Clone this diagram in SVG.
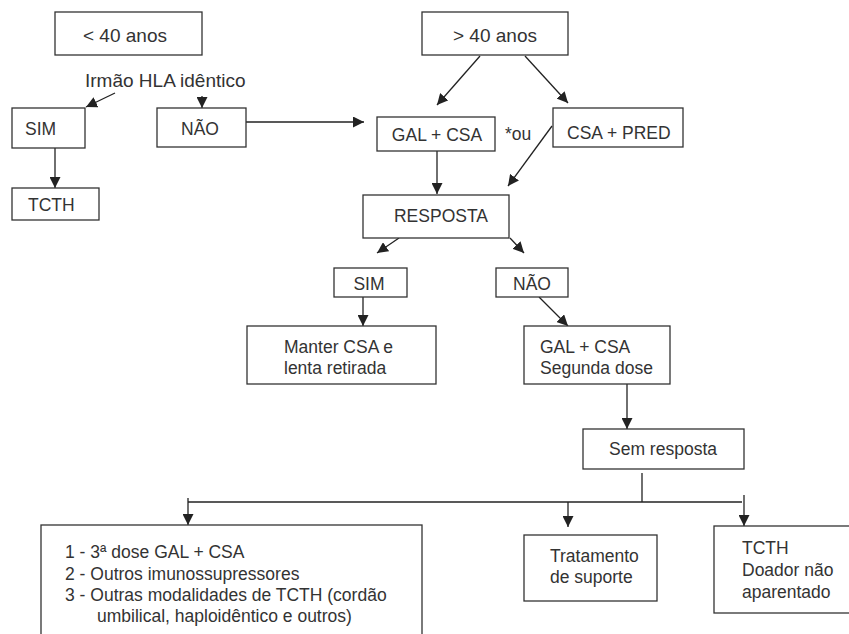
<svg xmlns="http://www.w3.org/2000/svg" width="849" height="634" viewBox="0 0 849 634">
<defs>
<style>
.b{fill:#fff;stroke:#333;stroke-width:1.3}
.t{font-family:"Liberation Sans",Arial,sans-serif;font-size:17.5px;fill:#333}
.big{font-size:19px}
.c{text-anchor:middle}
.e line,.e path{stroke:#222;stroke-width:1.3;fill:none}
</style>
<marker id="a" viewBox="0 0 10 10" refX="10" refY="5" markerWidth="11" markerHeight="11" markerUnits="userSpaceOnUse" orient="auto">
<path d="M0,0 L10,5 L0,10 Z" fill="#222"/>
</marker>
</defs>
<rect width="849" height="634" fill="#fff"/>
<g class="e" id="connectors">
<line x1="115" y1="93" x2="86" y2="107" marker-end="url(#a)"/>
<line x1="202" y1="96" x2="202" y2="108" marker-end="url(#a)"/>
<line x1="55" y1="148" x2="55" y2="188" marker-end="url(#a)"/>
<line x1="246" y1="122" x2="364" y2="122" marker-end="url(#a)"/>
<line x1="480" y1="56" x2="437" y2="105" marker-end="url(#a)"/>
<line x1="525" y1="56" x2="568" y2="103" marker-end="url(#a)"/>
<line x1="437" y1="151" x2="437" y2="194" marker-end="url(#a)"/>
<line x1="552" y1="126" x2="508" y2="186" marker-end="url(#a)"/>
<line x1="399" y1="238" x2="377" y2="253" marker-end="url(#a)"/>
<line x1="510" y1="238" x2="524" y2="253" marker-end="url(#a)"/>
<line x1="363" y1="297" x2="363" y2="326" marker-end="url(#a)"/>
<line x1="539" y1="297" x2="568" y2="326" marker-end="url(#a)"/>
<line x1="627" y1="384" x2="627" y2="429" marker-end="url(#a)"/>
<line x1="642" y1="473" x2="642" y2="502"/>
<line x1="188" y1="502" x2="742" y2="502"/>
<line x1="188" y1="498" x2="188" y2="525" marker-end="url(#a)"/>
<line x1="568" y1="502" x2="568" y2="527" marker-end="url(#a)"/>
<line x1="744" y1="495" x2="744" y2="526" marker-end="url(#a)"/>
</g>
<g id="lt40"><rect class="b" x="55" y="12" width="147" height="43"/><text class="t big c" x="125" y="42">&lt; 40 anos</text></g>
<g id="gt40"><rect class="b" x="422" y="12" width="146" height="43"/><text class="t big c" x="495" y="42">&gt; 40 anos</text></g>
<g id="irmao"><text class="t big" x="85" y="87">Irmão HLA idêntico</text></g>
<g id="sim1"><rect class="b" x="12" y="108" width="73" height="40"/><text class="t" x="25" y="135">SIM</text></g>
<g id="nao1"><rect class="b" x="157" y="108" width="89" height="39"/><text class="t c" x="200" y="135">NÃO</text></g>
<g id="tcth1"><rect class="b" x="12" y="188" width="87" height="32"/><text class="t" x="28" y="211">TCTH</text></g>
<g id="galcsa1"><rect class="b" x="377" y="117" width="118" height="34"/><text class="t c" x="437" y="141">GAL + CSA</text></g>
<g id="ou"><text class="t" x="505" y="140">*ou</text></g>
<g id="csapred"><rect class="b" x="553" y="108" width="130" height="39"/><text class="t" x="567" y="139">CSA + PRED</text></g>
<g id="resposta"><rect class="b" x="363" y="195" width="146" height="43"/><text class="t c" x="441" y="222">RESPOSTA</text></g>
<g id="sim2"><rect class="b" x="334" y="268" width="73" height="29"/><text class="t c" x="369" y="290">SIM</text></g>
<g id="nao2"><rect class="b" x="496" y="268" width="72" height="29"/><text class="t c" x="532" y="290">NÃO</text></g>
<g id="manter"><rect class="b" x="247" y="326" width="189" height="58"/><text class="t" x="284" y="353">Manter CSA e</text><text class="t" x="284" y="374">lenta retirada</text></g>
<g id="galcsa2"><rect class="b" x="524" y="326" width="146" height="58"/><text class="t" x="540" y="353">GAL + CSA</text><text class="t" x="540" y="374">Segunda dose</text></g>
<g id="semresp"><rect class="b" x="583" y="429" width="161" height="40"/><text class="t c" x="663" y="455">Sem resposta</text></g>
<g id="opcoes"><rect class="b" x="41" y="525" width="381" height="130"/>
<text class="t" x="65" y="558">1 - 3ª dose GAL + CSA</text>
<text class="t" x="65" y="580">2 - Outros imunossupressores</text>
<text class="t" x="65" y="601">3 - Outras modalidades de TCTH (cordão</text>
<text class="t" x="97" y="622">umbilical, haploidêntico e outros)</text></g>
<g id="suporte"><rect class="b" x="524" y="535" width="133" height="66"/><text class="t" x="550" y="562">Tratamento</text><text class="t" x="550" y="583">de suporte</text></g>
<g id="tcth2"><rect class="b" x="714" y="526" width="140" height="87"/><text class="t" x="742" y="554">TCTH</text><text class="t" x="742" y="576">Doador não</text><text class="t" x="742" y="598">aparentado</text></g>
</svg>
